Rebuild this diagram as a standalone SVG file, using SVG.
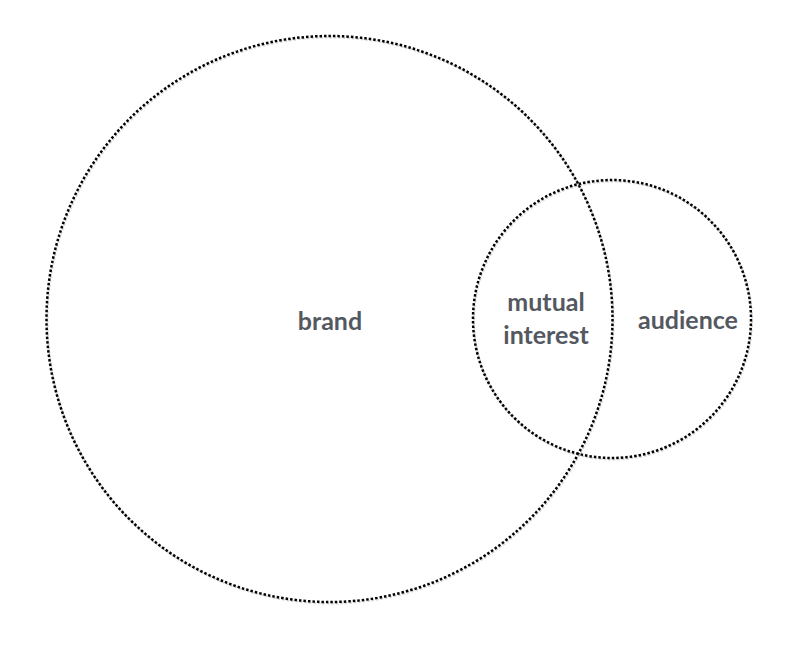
<svg xmlns="http://www.w3.org/2000/svg" width="794" height="650" viewBox="0 0 794 650">
<defs>
<style>
.c{fill:none;stroke:#000;stroke-width:2.5;stroke-dasharray:2.5 2}
.s{fill:none;stroke:#bbb;stroke-width:2;stroke-dasharray:2.5 2;opacity:.6}
.t{font-family:Lato,"Liberation Sans",sans-serif;font-size:25px;font-weight:bold;fill:#545861;text-anchor:middle}
</style>
</defs>
<rect width="794" height="650" fill="#fff"/>
<g id="brand">
<circle class="s" cx="330.5" cy="320.5" r="283"/>
<circle class="c" cx="329.5" cy="319" r="283"/>
<text class="t" x="330" y="330">brand</text>
</g>
<g id="audience">
<circle class="s" cx="613" cy="320.5" r="139"/>
<circle class="c" cx="612" cy="319" r="139"/>
<text class="t" x="688" y="329">audience</text>
</g>
<g id="mutual">
<text class="t" x="546" y="311">mutual</text>
<text class="t" x="546" y="344">interest</text>
</g>
<g id="connectors"></g>
</svg>
